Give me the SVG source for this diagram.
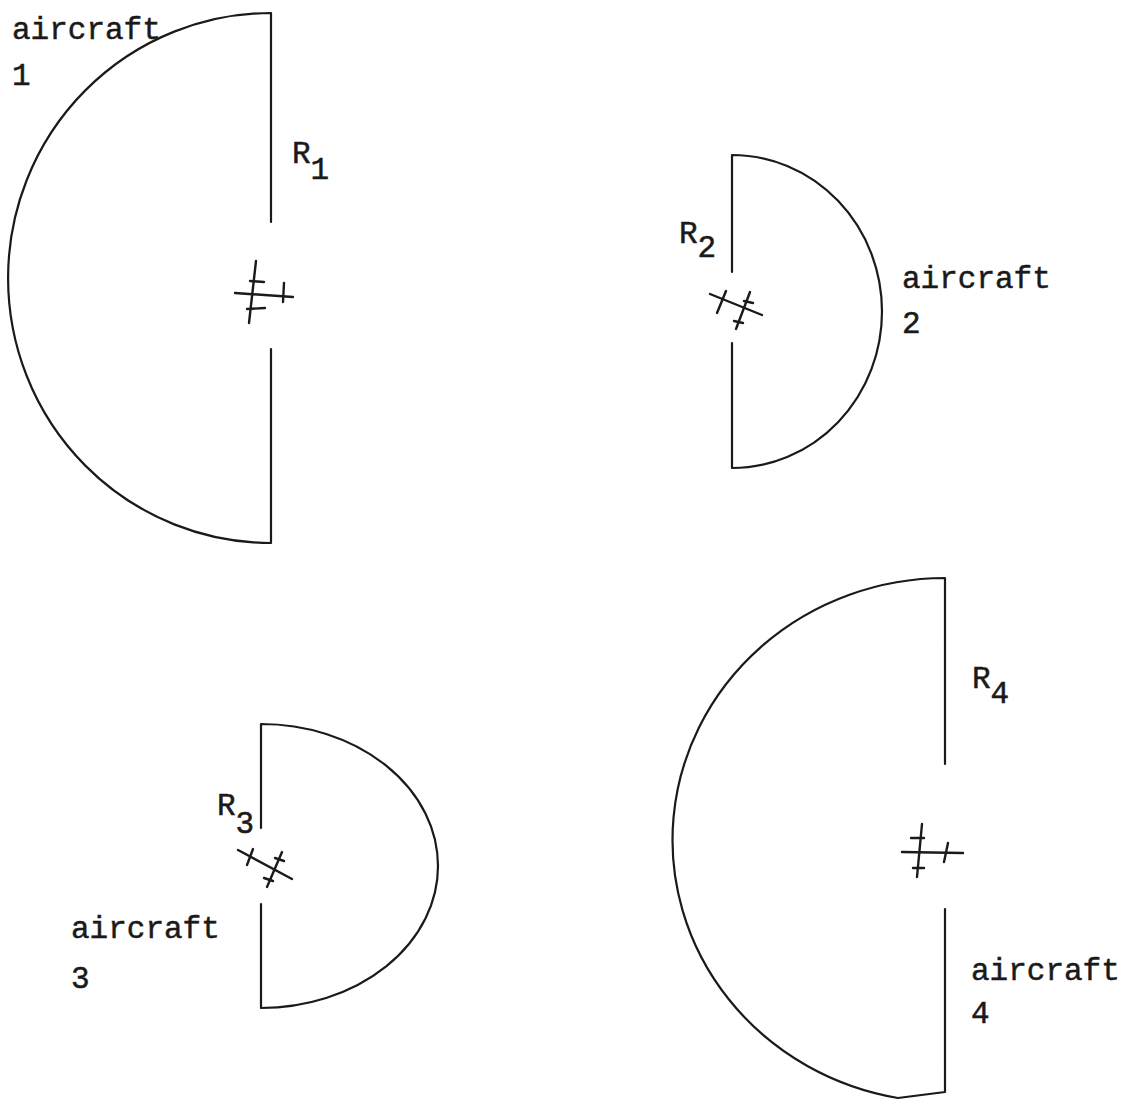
<svg xmlns="http://www.w3.org/2000/svg" width="1128" height="1117" viewBox="0 0 1128 1117">
<style>
.edge{fill:none;stroke:#1a1a1a;stroke-width:2.2;stroke-linejoin:round;stroke-linecap:round}
.sym{fill:none;stroke:#1a1a1a;stroke-width:2.4;stroke-linecap:round}
.t{font-family:"Liberation Mono","DejaVu Sans Mono",monospace;font-size:31px;fill:#1a1a1a;stroke:#1a1a1a;stroke-width:0.5}
</style>
<rect width="1128" height="1117" fill="#ffffff"/>
<g id="connectors"/>
<g id="aircraft1">
<path class="edge" d="M271,222 V13 A263,265 0 0 0 271,543 V349"/>
<g class="sym">
<line x1="256" y1="261" x2="249" y2="323"/>
<line x1="235" y1="293" x2="293" y2="297"/>
<line x1="250" y1="281" x2="264" y2="282"/>
<line x1="247" y1="309" x2="265" y2="308"/>
<line x1="284" y1="283" x2="283" y2="302"/>
</g>
<text class="t" x="12" y="39">aircraft</text>
<text class="t" x="12" y="85">1</text>
<text class="t" x="292" y="163">R<tspan dy="16">1</tspan></text>
</g>
<g id="aircraft2">
<path class="edge" d="M732,272 V155 A150,156.5 0 0 1 732,468 V343"/>
<g class="sym">
<line x1="710" y1="294" x2="762" y2="315"/>
<line x1="726" y1="291" x2="717" y2="313"/>
<line x1="750" y1="292" x2="736" y2="329"/>
<line x1="744" y1="301" x2="753" y2="303"/>
<line x1="734" y1="321" x2="743" y2="323"/>
</g>
<text class="t" x="902" y="288">aircraft</text>
<text class="t" x="902" y="333">2</text>
<text class="t" x="679" y="243">R<tspan dy="14">2</tspan></text>
</g>
<g id="aircraft3">
<path class="edge" d="M261,828 V724 A177,142 0 0 1 261,1008 V904"/>
<g class="sym">
<line x1="238" y1="850" x2="292" y2="879"/>
<line x1="253" y1="849" x2="247" y2="865"/>
<line x1="282" y1="852" x2="267" y2="887"/>
<line x1="275" y1="858" x2="284" y2="861"/>
<line x1="264" y1="878" x2="273" y2="881"/>
</g>
<text class="t" x="71" y="938">aircraft</text>
<text class="t" x="71" y="988">3</text>
<text class="t" x="217" y="815">R<tspan dy="18">3</tspan></text>
</g>
<g id="aircraft4">
<path class="edge" d="M945,764 V578 A273,262 0 0 0 898,1098 L945,1092 V909"/>
<g class="sym">
<line x1="902" y1="852" x2="963" y2="853"/>
<line x1="922" y1="824" x2="917" y2="877"/>
<line x1="911" y1="838" x2="924" y2="838"/>
<line x1="913" y1="868" x2="924" y2="868"/>
<line x1="948" y1="843" x2="944" y2="862"/>
</g>
<text class="t" x="971" y="980">aircraft</text>
<text class="t" x="971" y="1023">4</text>
<text class="t" x="972" y="688">R<tspan dy="15">4</tspan></text>
</g>
</svg>
